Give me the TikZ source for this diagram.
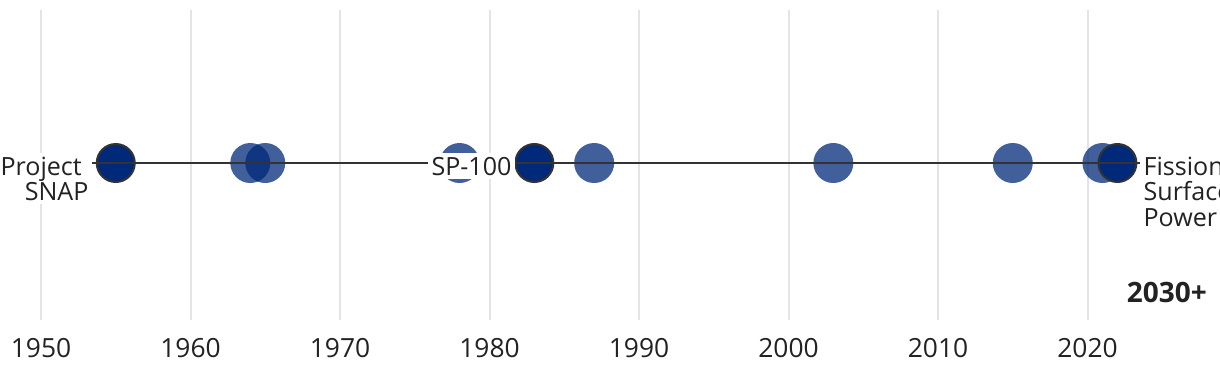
\documentclass[tikz,border=0pt]{standalone}
\usepackage{fontspec}
\setmainfont{Open Sans}
\definecolor{darkdot}{HTML}{00297A}
\definecolor{linegray}{HTML}{333333}
\definecolor{gridgray}{HTML}{E4E4E4}
\definecolor{txt}{HTML}{222222}
\tikzset{
  grid line/.style={draw=gridgray, line width=1.5pt},
  lightdot/.style={circle, fill=darkdot, fill opacity=0.75, inner sep=0pt, minimum size=30pt},
  darkdot/.style={circle, fill=darkdot, draw=linegray, line width=1.5pt, inner sep=0pt, minimum size=28.5pt},
  timeline/.style={draw=linegray, line width=1.5pt},
  eventlabel/.style={fill=white, text=txt, inner sep=2.5pt, font=\fontsize{18.8}{19.3}\selectfont},
  yearlabel/.style={text=txt, inner sep=0pt, anchor=base, font=\fontsize{19.8}{22}\selectfont},
}
\begin{document}
\begin{tikzpicture}[x=0.75pt,y=-0.75pt]
\useasboundingbox (0,0) rectangle (1220,380);
% grid lines and year labels
\foreach \y [count=\i] in {1950,1960,1970,1980,1990,2000,2010,2020}{
  \draw[grid line] ({41+(\y-1950)*14.95},10) -- ({41+(\y-1950)*14.95},320);
  \node[yearlabel] (yl\i) at ({41+(\y-1950)*14.95},357) {\y};
}
% light events
\foreach \y in {1964,1965,1978,1987,2003,2015,2021}{
  \node[lightdot] (e\y) at ({41+(\y-1950)*14.95},163) {};
}
% highlighted events
\foreach \y in {1955,1983,2022}{
  \node[darkdot] (e\y) at ({41+(\y-1950)*14.95},163) {};
}
% timeline
\coordinate (lstart) at (41,163);
\coordinate (lend) at (1160,163);
\draw[timeline] (lstart) -- (lend);
% labels
\node[eventlabel, anchor=north east, align=right] (snap) at (92,153) {Project\hspace*{5pt}\\SNAP};
\node[eventlabel, anchor=base] (sp100) at (471.5,175) {SP-100};
\node[eventlabel, anchor=north west, align=left] (fsp) at (1140,153) {Fission\\Surface\\Power};
\node[text=txt, anchor=base east, inner sep=0pt, font=\fontsize{21}{24}\selectfont\bfseries] (future) at (1207,302) {2030+};
\end{tikzpicture}
\end{document}
